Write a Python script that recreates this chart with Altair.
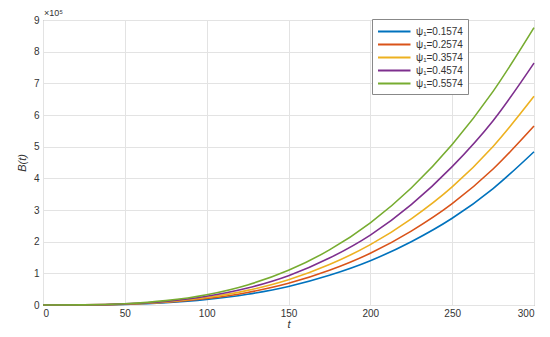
import altair as alt
import pandas as pd

t_vals = [0, 25, 50, 75, 100, 125, 150, 175, 200, 225, 250, 275, 300]
series_names = ["ψ₁=0.1574", "ψ₁=0.2574", "ψ₁=0.3574", "ψ₁=0.4574", "ψ₁=0.5574"]
# values in units of 1e5
b_blue   = [0, 0.0024, 0.021, 0.073, 0.174, 0.339, 0.586, 0.939, 1.399, 1.999, 2.739, 3.678, 4.84]
b_red    = [0, 0.0028, 0.025, 0.085, 0.203, 0.396, 0.684, 1.096, 1.633, 2.333, 3.198, 4.294, 5.65]
b_yellow = [0, 0.0033, 0.029, 0.099, 0.237, 0.461, 0.797, 1.278, 1.905, 2.722, 3.730, 5.008, 6.59]
b_purple = [0, 0.0038, 0.034, 0.115, 0.275, 0.535, 0.924, 1.482, 2.208, 3.170, 4.370, 5.820, 7.64]
b_green  = [0, 0.0050, 0.041, 0.137, 0.324, 0.634, 1.095, 1.739, 2.596, 3.696, 5.069, 6.747, 8.76]
colors = ["#0072BD", "#D95319", "#EDB120", "#7E2F8E", "#77AC30"]
x_ticks = [0, 50, 100, 150, 200, 250, 300]
y_ticks = [0, 1, 2, 3, 4, 5, 6, 7, 8, 9]

rows = []
for name, vals in zip(series_names, [b_blue, b_red, b_yellow, b_purple, b_green]):
    for t, v in zip(t_vals, vals):
        rows.append({"t": t, "B": v, "series": name})
df = pd.DataFrame(rows)

FONT = "Liberation Sans"
TXT = "#333333"

lines = alt.Chart(df).mark_line(strokeWidth=1.6, interpolate="monotone").encode(
    x=alt.X("t:Q", scale=alt.Scale(domain=[0, 300], nice=False),
            axis=alt.Axis(values=x_ticks, title="t", titleFontStyle="italic",
                          titleFontWeight="normal", titleFontSize=11, titlePadding=0,
                          labelFontSize=10, labelPadding=3, tickSize=0, domain=False,
                          gridColor="#e3e3e3", labelColor=TXT, titleColor=TXT)),
    y=alt.Y("B:Q", scale=alt.Scale(domain=[0, 9], nice=False),
            axis=alt.Axis(values=y_ticks, title="B(t)", titleFontStyle="italic",
                          titleFontWeight="normal", titleFontSize=11, titlePadding=6,
                          labelFontSize=10, labelPadding=4, tickSize=0, domain=False,
                          gridColor="#e3e3e3", labelColor=TXT, titleColor=TXT)),
    color=alt.Color("series:N", scale=alt.Scale(domain=series_names, range=colors),
                    legend=alt.Legend(title=None, orient="none", legendX=329, legendY=-1,
                                      symbolType="M-1,0H4", symbolSize=169, symbolStrokeWidth=2,
                                      labelFontSize=10, labelColor=TXT,
                                      fillColor="white", strokeColor="#888888",
                                      padding=5, rowPadding=0, labelOffset=24)),
)

expo = alt.Chart(pd.DataFrame({"a": [0]})).mark_text(
    align="left", baseline="bottom", fontSize=9, color=TXT, font=FONT
).encode(x=alt.value(1), y=alt.value(-2), text=alt.value("×10⁵"))

chart = alt.layer(lines, expo).properties(
    width=491, height=285,
    autosize=alt.AutoSizeParams(type="none"),
    padding={"left": 35, "top": 12, "right": 8, "bottom": 24},
).configure(font=FONT).configure_view(stroke="#888888", strokeWidth=1)

chart.save("out.html", embed_options={"renderer": "svg", "actions": False})
